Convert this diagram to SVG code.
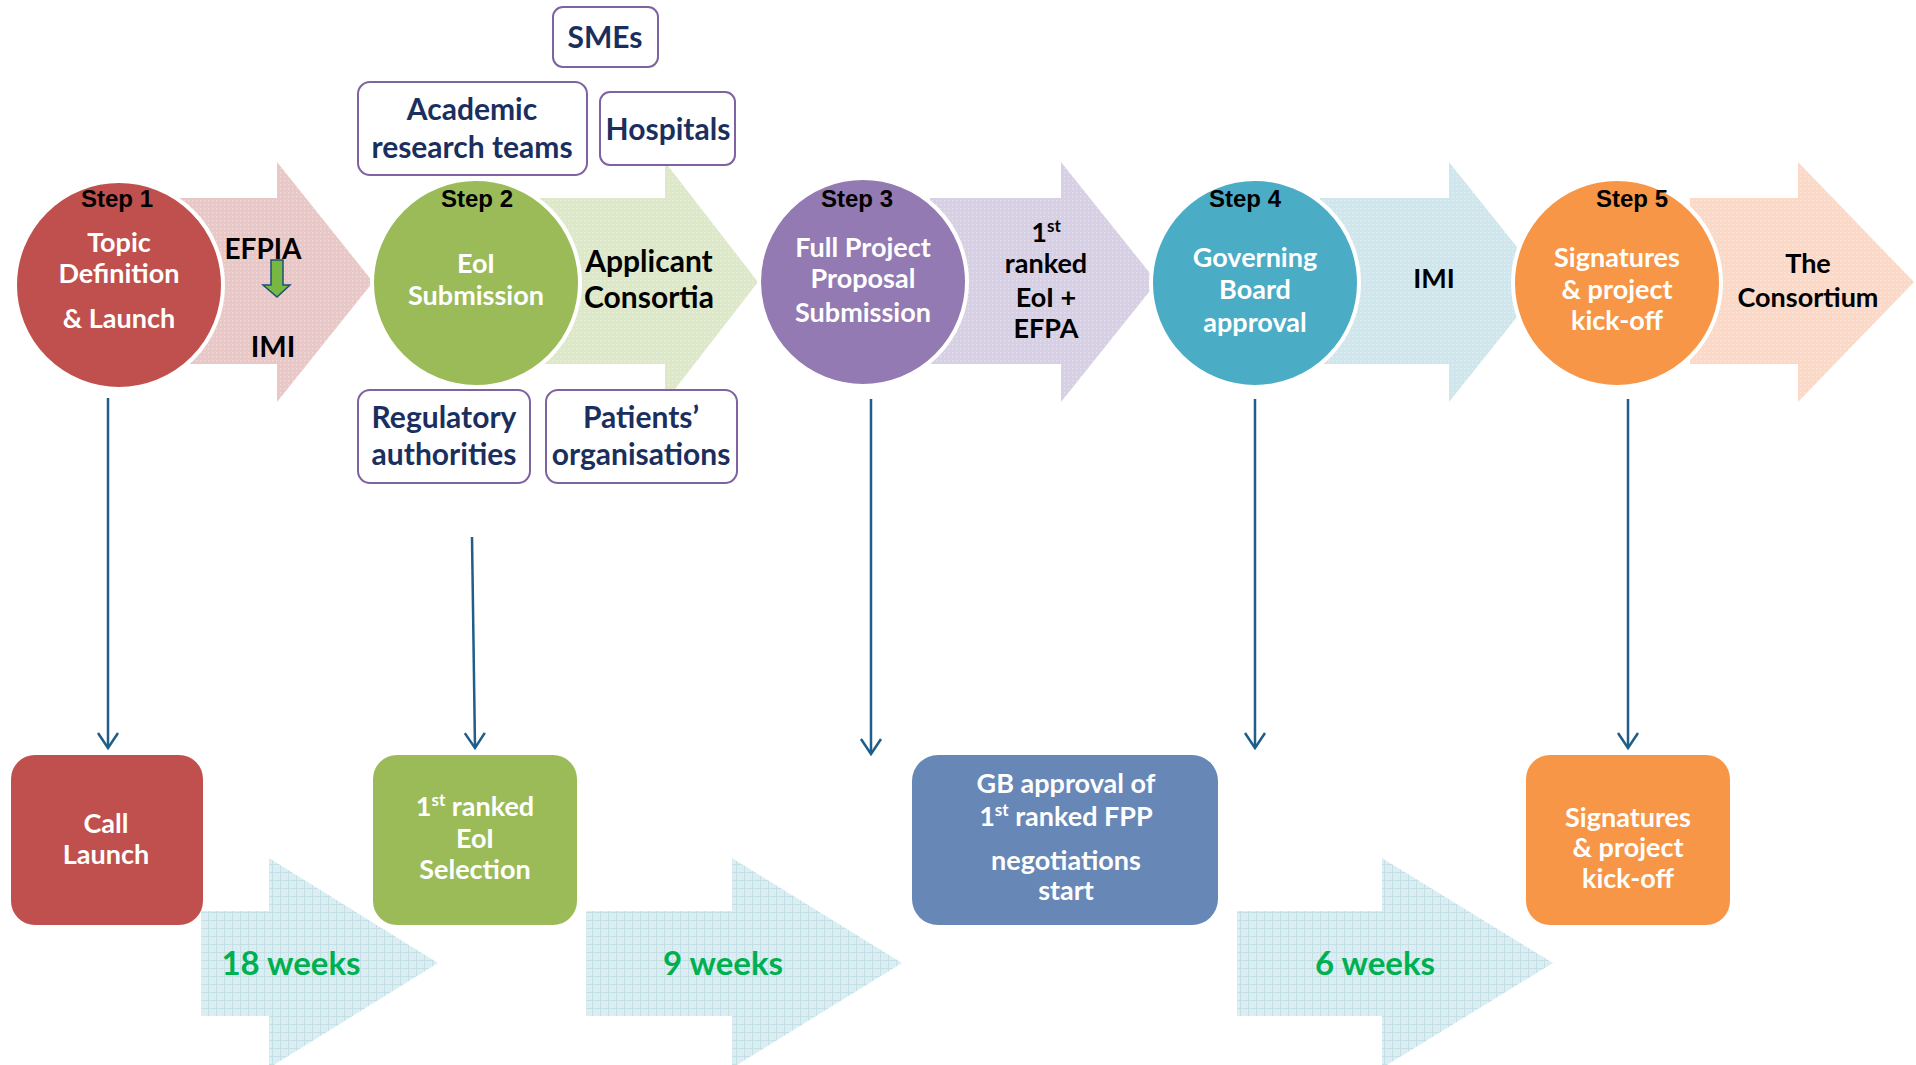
<svg xmlns="http://www.w3.org/2000/svg" width="1916" height="1065" viewBox="0 0 1916 1065">
  <defs>
    <style>
      .step { font-family: "Liberation Sans", Arial, sans-serif; font-weight: bold; font-size: 24px; fill: #000; text-anchor: middle; }
      .wt { font-family: Lato, "Open Sans", sans-serif; font-weight: bold; font-size: 27px; fill: #fff; text-anchor: middle; }
      .bk { font-family: Lato, "Open Sans", sans-serif; font-weight: bold; font-size: 27px; fill: #000; text-anchor: middle; }
      .nv { font-family: Lato, "Open Sans", sans-serif; font-weight: bold; font-size: 30px; fill: #1b2f5e; text-anchor: middle; }
      .wk { font-family: Lato, "Open Sans", sans-serif; font-weight: bold; font-size: 33px; fill: #00b050; text-anchor: middle; }
      .tag { fill: #fff; stroke: #7e62a1; stroke-width: 2; }
      .ring { stroke: #fff; stroke-width: 4; }
      .conn { stroke: #1f5d8a; stroke-width: 2.5; fill: none; marker-end: url(#vhead); }
    </style>
    <!-- fine dot texture laid over the pale process arrows -->
    <pattern id="dots" width="4" height="4" patternUnits="userSpaceOnUse">
      <rect x="0" y="0" width="1.4" height="1.4" fill="#fff" opacity="0.35"/>
    </pattern>
    <!-- squared-paper texture for the duration arrows -->
    <pattern id="grid" width="8" height="8" patternUnits="userSpaceOnUse">
      <rect width="8" height="8" fill="#ddeef2"/>
      <path d="M0 0.5H8M0.5 0V8" stroke="#c4e0e7" stroke-width="1"/>
      <rect x="4" y="4" width="1" height="1" fill="#cfe6ec"/>
    </pattern>
    <marker id="vhead" viewBox="-17 -12 20 24" markerWidth="20" markerHeight="24" refX="0" refY="0" orient="auto" markerUnits="userSpaceOnUse">
      <path d="M-15,-10 L0,0 L-15,10" fill="none" stroke="#1f5d8a" stroke-width="2.5"/>
    </marker>
  </defs>

  <rect width="1916" height="1065" fill="#fff"/>

  <!-- pale process arrows between the steps -->
  <g id="process-arrows">
    <g id="arrow-efpia">
      <path d="M150,198 H277 V162 L373,282 L277,402 V364 H150 Z" fill="#e9c7c6"/>
      <path d="M150,198 H277 V162 L373,282 L277,402 V364 H150 Z" fill="url(#dots)"/>
      <text class="bk" x="263" y="259" style="font-size:28px">EFPIA</text>
      <path d="M271,260 H283 V285 H290 L277,297 L263,285 H271 Z" fill="#77b843" stroke="#1f4e79" stroke-width="1.5"/>
      <text class="bk" x="273" y="357" style="font-size:29px">IMI</text>
    </g>
    <g id="arrow-applicants">
      <path d="M540,198 H665 V162 L758,282 L665,402 V364 H540 Z" fill="#dde8c9"/>
      <path d="M540,198 H665 V162 L758,282 L665,402 V364 H540 Z" fill="url(#dots)"/>
      <text class="bk" x="649" y="272" style="font-size:30px">Applicant</text>
      <text class="bk" x="649" y="308" style="font-size:30px">Consortia</text>
    </g>
    <g id="arrow-ranked">
      <path d="M930,198 H1061 V162 L1157,282 L1061,402 V364 H930 Z" fill="#d7cfe3"/>
      <path d="M930,198 H1061 V162 L1157,282 L1061,402 V364 H930 Z" fill="url(#dots)"/>
      <text class="bk" x="1046" y="242">1<tspan dy="-10" style="font-size:17px">st</tspan></text>
      <text class="bk" x="1046" y="273">ranked</text>
      <text class="bk" x="1046" y="307">EoI +</text>
      <text class="bk" x="1046" y="338">EFPA</text>
    </g>
    <g id="arrow-imi">
      <path d="M1320,198 H1449 V162 L1545,282 L1449,402 V364 H1320 Z" fill="#d0e6ed"/>
      <path d="M1320,198 H1449 V162 L1545,282 L1449,402 V364 H1320 Z" fill="url(#dots)"/>
      <text class="bk" x="1434" y="288">IMI</text>
    </g>
    <g id="arrow-consortium">
      <path d="M1690,198 H1798 V162 L1914,282 L1798,402 V364 H1690 Z" fill="#fcd9c7"/>
      <path d="M1690,198 H1798 V162 L1914,282 L1798,402 V364 H1690 Z" fill="url(#dots)"/>
      <text class="bk" x="1808" y="273">The</text>
      <text class="bk" x="1808" y="307">Consortium</text>
    </g>
  </g>

  <!-- step circles -->
  <g id="step1">
    <circle class="ring" cx="119" cy="285" r="104" fill="#c0504d"/>
    <text class="step" x="117" y="207">Step 1</text>
    <text class="wt" x="119" y="252">Topic</text>
    <text class="wt" x="119" y="283">Definition</text>
    <text class="wt" x="119" y="328">&amp; Launch</text>
  </g>
  <g id="step2">
    <circle class="ring" cx="476" cy="283" r="104" fill="#9bbb59"/>
    <text class="step" x="477" y="207">Step 2</text>
    <text class="wt" x="476" y="273" fill="#f4f4f4">EoI</text>
    <text class="wt" x="476" y="305">Submission</text>
  </g>
  <g id="step3">
    <circle class="ring" cx="863" cy="282" r="104" fill="#937ab2"/>
    <text class="step" x="857" y="207">Step 3</text>
    <text class="wt" x="863" y="257">Full Project</text>
    <text class="wt" x="863" y="288">Proposal</text>
    <text class="wt" x="863" y="322">Submission</text>
  </g>
  <g id="step4">
    <circle class="ring" cx="1255" cy="283" r="104" fill="#4bacc6"/>
    <text class="step" x="1245" y="207">Step 4</text>
    <text class="wt" x="1255" y="267">Governing</text>
    <text class="wt" x="1255" y="299">Board</text>
    <text class="wt" x="1255" y="332">approval</text>
  </g>
  <g id="step5">
    <circle class="ring" cx="1617" cy="283" r="104" fill="#f79646"/>
    <text class="step" x="1632" y="207">Step 5</text>
    <text class="wt" x="1617" y="267">Signatures</text>
    <text class="wt" x="1617" y="299">&amp; project</text>
    <text class="wt" x="1617" y="330">kick-off</text>
  </g>

  <!-- applicant types around step 2 -->
  <g id="tag-smes">
    <rect class="tag" x="553" y="7" width="105" height="60" rx="10"/>
    <text class="nv" x="605" y="48">SMEs</text>
  </g>
  <g id="tag-academic">
    <rect class="tag" x="358" y="82" width="229" height="93" rx="12"/>
    <text class="nv" x="472" y="120">Academic</text>
    <text class="nv" x="472" y="158">research teams</text>
  </g>
  <g id="tag-hospitals">
    <rect class="tag" x="600" y="92" width="135" height="73" rx="10"/>
    <text class="nv" x="668" y="140">Hospitals</text>
  </g>
  <g id="tag-regulatory">
    <rect class="tag" x="358" y="390" width="172" height="93" rx="12"/>
    <text class="nv" x="444" y="428">Regulatory</text>
    <text class="nv" x="444" y="465">authorities</text>
  </g>
  <g id="tag-patients">
    <rect class="tag" x="546" y="390" width="191" height="93" rx="12"/>
    <text class="nv" x="641" y="428">Patients’</text>
    <text class="nv" x="641" y="465">organisations</text>
  </g>

  <!-- duration arrows -->
  <g id="duration-18">
    <path d="M201,911 H269 V858 L438,963 L269,1068 V1016 H201 Z" fill="url(#grid)"/>
    <text class="wk" x="291" y="975">18 weeks</text>
  </g>
  <g id="duration-9">
    <path d="M586,911 H732 V858 L902,963 L732,1068 V1016 H586 Z" fill="url(#grid)"/>
    <text class="wk" x="723" y="975">9 weeks</text>
  </g>
  <g id="duration-6">
    <path d="M1237,911 H1382 V858 L1553,963 L1382,1068 V1016 H1237 Z" fill="url(#grid)"/>
    <text class="wk" x="1375" y="975">6 weeks</text>
  </g>

  <!-- milestone boxes -->
  <g id="box-call-launch">
    <rect x="11" y="755" width="192" height="170" rx="24" fill="#c0504d"/>
    <text class="wt" x="106" y="833">Call</text>
    <text class="wt" x="106" y="864">Launch</text>
  </g>
  <g id="box-eoi-selection">
    <rect x="373" y="755" width="204" height="170" rx="24" fill="#9bbb59"/>
    <text class="wt" x="475" y="816">1<tspan dy="-10" style="font-size:17px">st</tspan><tspan dy="10"> ranked</tspan></text>
    <text class="wt" x="475" y="848">EoI</text>
    <text class="wt" x="475" y="879">Selection</text>
  </g>
  <g id="box-gb-approval">
    <rect x="912" y="755" width="306" height="170" rx="26" fill="#6787b7"/>
    <text class="wt" x="1066" y="793">GB approval of</text>
    <text class="wt" x="1066" y="826">1<tspan dy="-10" style="font-size:17px">st</tspan><tspan dy="10"> ranked FPP</tspan></text>
    <text class="wt" x="1066" y="870">negotiations</text>
    <text class="wt" x="1066" y="900">start</text>
  </g>
  <g id="box-kickoff">
    <rect x="1526" y="755" width="204" height="170" rx="24" fill="#f79646"/>
    <text class="wt" x="1628" y="827">Signatures</text>
    <text class="wt" x="1628" y="857">&amp; project</text>
    <text class="wt" x="1628" y="888">kick-off</text>
  </g>

  <!-- connectors from steps down to milestones -->
  <g id="connectors">
    <line class="conn" x1="108" y1="398" x2="108" y2="748"/>
    <line class="conn" x1="472" y1="537" x2="475" y2="748"/>
    <line class="conn" x1="871" y1="399" x2="871" y2="754"/>
    <line class="conn" x1="1255" y1="399" x2="1255" y2="748"/>
    <line class="conn" x1="1628" y1="399" x2="1628" y2="748"/>
  </g>
</svg>
